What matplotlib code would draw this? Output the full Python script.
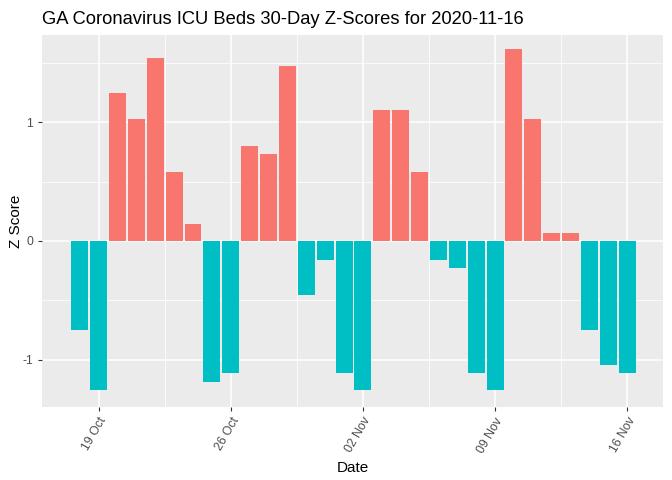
import matplotlib
matplotlib.use('Agg')
import matplotlib.pyplot as plt
import matplotlib.dates as mdates
import numpy as np
import datetime as dt

plt.rcParams['font.family'] = ['Liberation Sans', 'DejaVu Sans']

# 30 days of z-scores, 2020-10-18 .. 2020-11-16
start = dt.date(2020, 10, 18)
dates = [start + dt.timedelta(days=i) for i in range(30)]
zscores = [-0.75, -1.26, 1.25, 1.03, 1.54, 0.58, 0.14, -1.19, -1.11, 0.80,
           0.73, 1.47, -0.46, -0.16, -1.11, -1.26, 1.10, 1.10, 0.58, -0.16,
           -0.23, -1.11, -1.26, 1.62, 1.03, 0.07, 0.07, -0.75, -1.05, -1.11]

tick_dates = [dt.date(2020, 10, 19), dt.date(2020, 10, 26), dt.date(2020, 11, 2),
              dt.date(2020, 11, 9), dt.date(2020, 11, 16)]
tick_labels = ['19 Oct', '26 Oct', '02 Nov', '09 Nov', '16 Nov']

POS = '#F8766D'
NEG = '#00BFC4'

fig = plt.figure(figsize=(6.72, 4.8), dpi=100)
ax = fig.add_axes([42 / 672, 1 - 407 / 480, (663 - 42) / 672, (407 - 35) / 480])

ax.set_facecolor('#EBEBEB')
for s in ax.spines.values():
    s.set_visible(False)

x = mdates.date2num(dates)
colors = [POS if z > 0 else NEG for z in zscores]

# grid: major + minor lines
ticks_num = mdates.date2num(tick_dates)
minor_x = (ticks_num[:-1] + ticks_num[1:]) / 2
for v in minor_x:
    ax.axvline(v, color='white', lw=0.55, zorder=0)
for v in ticks_num:
    ax.axvline(v, color='white', lw=1.1, zorder=0)
for v in [-0.5, 0.5, 1.5]:
    ax.axhline(v, color='white', lw=0.55, zorder=0)
for v in [-1, 0, 1]:
    ax.axhline(v, color='white', lw=1.1, zorder=0)

ax.bar(x, zscores, width=0.9, color=colors, zorder=2)

ax.set_xlim(x[0] - 2.0, x[-1] + 1.9)
ax.set_ylim(-1.40, 1.735)

ax.set_xticks(ticks_num)
ax.set_xticklabels(tick_labels, rotation=60, ha='right', va='top',
                   rotation_mode='anchor', color='#4D4D4D', fontsize=8.8)
ax.set_yticks([-1, 0, 1])
ax.set_yticklabels(['-1', '0', '1'], color='#4D4D4D', fontsize=8.8)
ax.tick_params(axis='both', length=3, color='#333333', width=0.8)
ax.tick_params(axis='x', pad=3)

ax.set_xlabel('Date', fontsize=11, labelpad=4)
ax.set_ylabel('Z Score', fontsize=11, labelpad=4)
ax.yaxis.set_label_coords(-12 / 621 - 0.012, 0.5)
ax.set_title('GA Coronavirus ICU Beds 30-Day Z-Scores for 2020-11-16',
             fontsize=13.2, loc='left', pad=8)

fig.savefig('out.png', dpi=100)
